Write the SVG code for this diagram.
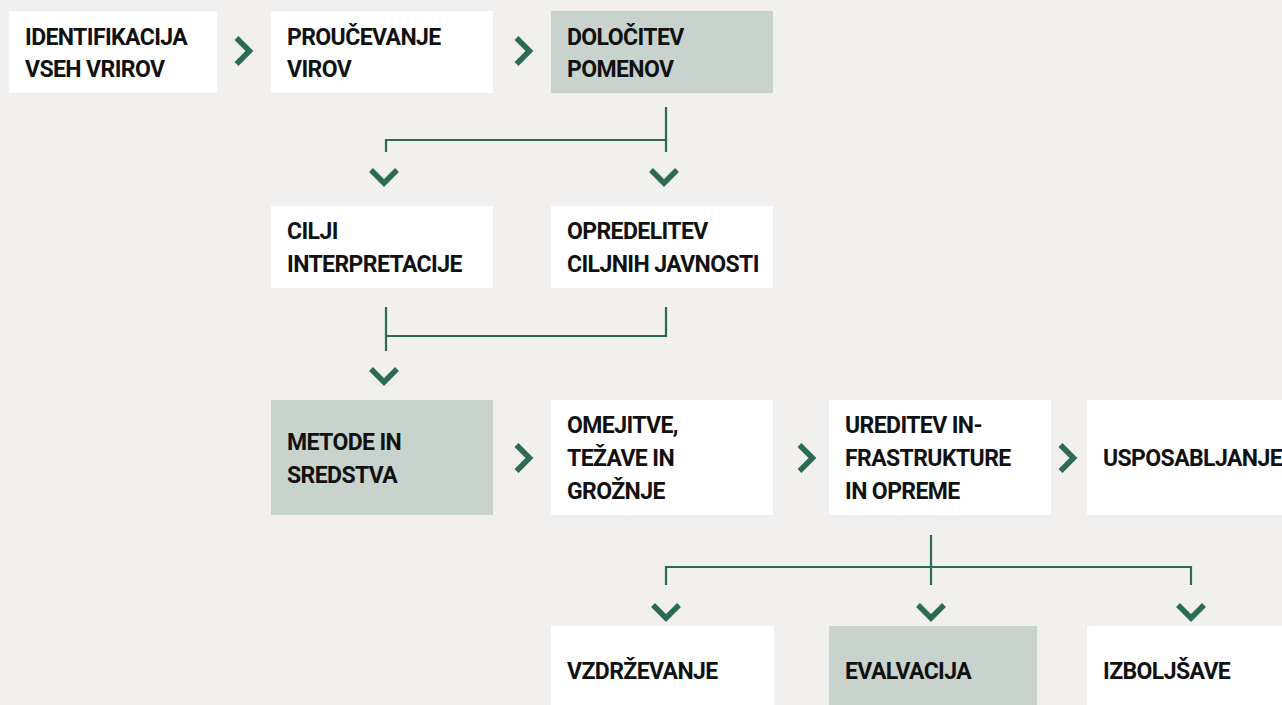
<svg xmlns="http://www.w3.org/2000/svg" width="1282" height="705" viewBox="0 0 1282 705">
<style>
.bg{fill:#f1f0ee}
.w{fill:#ffffff}
.g{fill:#c9d3cd}
.t{font-family:Roboto,"Liberation Sans",sans-serif;font-weight:700;font-size:23px;letter-spacing:-0.6px;fill:#111111}
.ln{fill:none;stroke:#2a6b52;stroke-width:2.2}
.cv{fill:none;stroke:#2a6b52;stroke-width:5.5;stroke-linejoin:miter;stroke-linecap:butt}
</style>
<defs>
<polyline id="cr" points="-13,-13 0,0 -13,13" class="cv"/>
<polyline id="cd" points="-13,-13 0,0 13,-13" class="cv"/>
</defs>
<rect class="bg" x="0" y="0" width="1282" height="705"/>

<g id="n1"><rect class="w" x="9" y="11" width="208" height="82"/><text class="t" x="25" y="45">IDENTIFIKACIJA</text><text class="t" x="25" y="77">VSEH VRIROV</text></g>
<g id="n2"><rect class="w" x="271" y="11" width="222" height="82"/><text class="t" x="287" y="45">PROUČEVANJE</text><text class="t" x="287" y="77">VIROV</text></g>
<g id="n3"><rect class="g" x="551" y="11" width="222" height="82"/><text class="t" x="567" y="45">DOLOČITEV</text><text class="t" x="567" y="77">POMENOV</text></g>

<g id="n4"><rect class="w" x="271" y="206" width="222" height="82"/><text class="t" x="287" y="239">CILJI</text><text class="t" x="287" y="272">INTERPRETACIJE</text></g>
<g id="n5"><rect class="w" x="551" y="206" width="222" height="82"/><text class="t" x="567" y="239">OPREDELITEV</text><text class="t" x="567" y="272">CILJNIH JAVNOSTI</text></g>

<g id="n6"><rect class="g" x="271" y="400" width="222" height="115"/><text class="t" x="287" y="450">METODE IN</text><text class="t" x="287" y="483">SREDSTVA</text></g>
<g id="n7"><rect class="w" x="551" y="400" width="222" height="115"/><text class="t" x="567" y="433">OMEJITVE,</text><text class="t" x="567" y="466">TEŽAVE IN</text><text class="t" x="567" y="499">GROŽNJE</text></g>
<g id="n8"><rect class="w" x="829" y="400" width="222" height="115"/><text class="t" x="845" y="433">UREDITEV IN-</text><text class="t" x="845" y="466">FRASTRUKTURE</text><text class="t" x="845" y="499">IN OPREME</text></g>
<g id="n9"><rect class="w" x="1087" y="400" width="200" height="115"/><text class="t" x="1103" y="466">USPOSABLJANJE</text></g>

<g id="n10"><rect class="w" x="551" y="626" width="223" height="90"/><text class="t" x="567" y="679">VZDRŽEVANJE</text></g>
<g id="n11"><rect class="g" x="829" y="626" width="208" height="90"/><text class="t" x="845" y="679">EVALVACIJA</text></g>
<g id="n12"><rect class="w" x="1087" y="626" width="200" height="90"/><text class="t" x="1103" y="679">IZBOLJŠAVE</text></g>

<g id="connectors">
<path class="ln" d="M666,107 V152 M666,140 H386 V152"/>
<path class="ln" d="M386,307 V351 M386,336 H666 V307"/>
<path class="ln" d="M931,535 V585 M666,585 V567 H1191 V585"/>
<use href="#cr" x="249.5" y="51"/>
<use href="#cr" x="529.5" y="51"/>
<use href="#cr" x="529.5" y="458"/>
<use href="#cr" x="812.5" y="458"/>
<use href="#cr" x="1073.5" y="458"/>
<use href="#cd" x="384" y="183"/>
<use href="#cd" x="664" y="183"/>
<use href="#cd" x="384" y="382"/>
<use href="#cd" x="666" y="618"/>
<use href="#cd" x="931" y="618"/>
<use href="#cd" x="1191" y="618"/>
</g>
</svg>
